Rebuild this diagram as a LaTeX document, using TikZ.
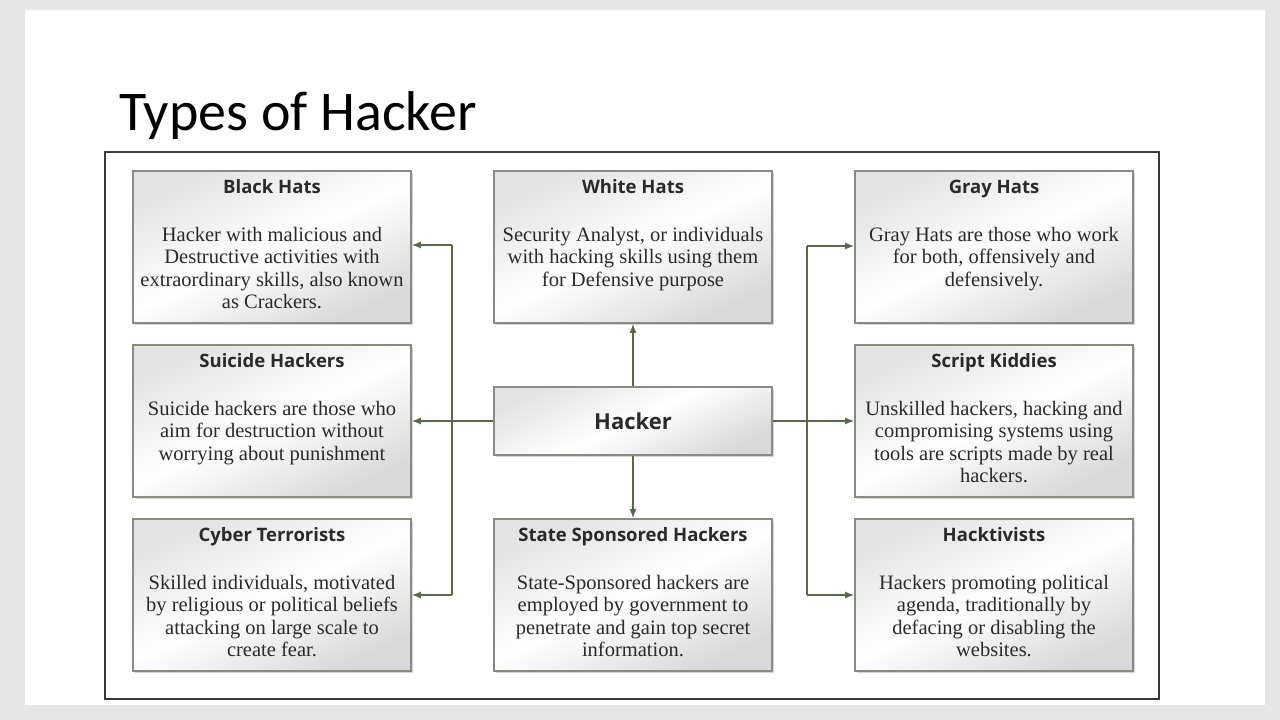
\documentclass[tikz,border=0pt]{standalone}
\usepackage{fontspec}
\setmainfont{Liberation Serif}
\newfontfamily\headfont{Open Sans}
\newfontfamily\titlefont{Carlito}
\usetikzlibrary{arrows.meta,shadows}
\definecolor{bggray}{HTML}{E6E6E6}
\definecolor{conncol}{HTML}{566A4A}
\definecolor{boxborder}{HTML}{858C80}
\definecolor{framecol}{HTML}{3A3A3A}
\definecolor{txtcol}{HTML}{2A2A2A}
\tikzset{
  typebox/.style={draw=boxborder, line width=1.6pt, minimum width=278pt, minimum height=152pt,
    inner sep=0pt, left color=gray!22, right color=gray!30, middle color=white, shading angle=25,
    drop shadow={shadow xshift=1.5pt, shadow yshift=-1.5pt, fill=gray!55, opacity=0.6}},
  hackerbox/.style={typebox, minimum height=68pt, font=\headfont\bfseries\fontsize{22}{26}\selectfont, text=txtcol},
  headtxt/.style={font=\headfont\bfseries\fontsize{18.5}{22}\selectfont, text=txtcol, inner sep=0pt, anchor=base},
  bodytxt/.style={font=\fontsize{20.5}{22.5}\selectfont, text=txtcol, align=center, inner sep=0pt, anchor=north},
  conn/.style={draw=conncol, line width=1.5pt},
  arr/.style={conn, -{Latex[length=9pt,width=7pt]}}
}
\begin{document}
\begin{tikzpicture}[x=1pt,y=-1pt]
\useasboundingbox (0,0) rectangle (1280,720);
\fill[bggray] (0,0) rectangle (1280,720);
\fill[white] (25,10) rectangle (1265,705);
\node[anchor=base west, inner sep=0pt, font=\titlefont\fontsize{56}{60}\selectfont] (title) at (119,130) {Types of Hacker};
\draw[framecol, line width=2pt] (105,152) rectangle (1159,699);

% boxes
\node[typebox] (black)   at (272,247) {};
\node[typebox] (white)   at (633,247) {};
\node[typebox] (gray)    at (994,247) {};
\node[typebox] (suicide) at (272,421) {};
\node[typebox] (script)  at (994,421) {};
\node[typebox] (cyber)   at (272,595) {};
\node[typebox] (state)   at (633,595) {};
\node[typebox] (hackt)   at (994,595) {};
\node[hackerbox] (hacker) at (633,421) {Hacker};

% headings
\node[headtxt] (blackH)   at (272,193) {Black Hats};
\node[headtxt] (whiteH)   at (633,193) {White Hats};
\node[headtxt] (grayH)    at (994,193) {Gray Hats};
\node[headtxt] (suicideH) at (272,367) {Suicide Hackers};
\node[headtxt] (scriptH)  at (994,367) {Script Kiddies};
\node[headtxt] (cyberH)   at (272,541) {Cyber Terrorists};
\node[headtxt] (stateH)   at (633,541) {State Sponsored Hackers};
\node[headtxt] (hacktH)   at (994,541) {Hacktivists};

% bodies
\node[bodytxt] (blackB) at (272,227) {Hacker with malicious and\\Destructive activities with\\extraordinary skills, also known\\as Crackers.};
\node[bodytxt] (whiteB) at (633,227) {Security Analyst, or individuals\\with hacking skills using them\\for Defensive purpose};
\node[bodytxt] (grayB) at (994,227) {Gray Hats are those who work\\for both, offensively and\\defensively.};
\node[bodytxt] (suicideB) at (272,401) {Suicide hackers are those who\\aim for destruction without\\worrying about punishment};
\node[bodytxt] (scriptB) at (994,401) {Unskilled hackers, hacking and\\compromising systems using\\tools are scripts made by real\\hackers.};
\node[bodytxt] (cyberB) at (272,575) {Skilled individuals, motivated\\by religious or political beliefs\\attacking on large scale to\\create fear.};
\node[bodytxt] (stateB) at (633,575) {State-Sponsored hackers are\\employed by government to\\penetrate and gain top secret\\information.};
\node[bodytxt] (hacktB) at (994,575) {Hackers promoting political\\agenda, traditionally by\\defacing or disabling the\\websites.};

% connectors
\coordinate (lt) at (452,245);
\coordinate (lb) at (452,595);
\coordinate (rt) at (807,246);
\coordinate (rb) at (807,595);
\draw[arr] (hacker.north) -- (white.south);
\draw[arr] (hacker.south) -- (state.north);
\draw[arr] (hacker.west) -- (suicide.east);
\draw[arr] (hacker.east) -- (script.west);
\draw[conn] (lt) -- (lb);
\draw[conn] (rt) -- (rb);
\draw[arr] (lt) -- (lt -| black.east);
\draw[arr] (lb) -- (lb -| cyber.east);
\draw[arr] (rt) -- (rt -| gray.west);
\draw[arr] (rb) -- (rb -| hackt.west);
\end{tikzpicture}
\end{document}
